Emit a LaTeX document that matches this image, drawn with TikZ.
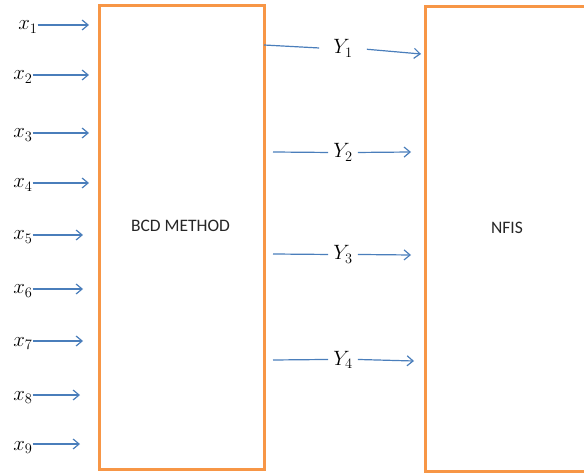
\documentclass[tikz,border=0pt]{standalone}
\usepackage{fontspec}
\usepackage{amsmath,amssymb}
\usetikzlibrary{calc}
\usetikzlibrary{arrows.meta}
\newfontfamily\boxfont{Carlito}
\definecolor{boxorange}{HTML}{F79646}
\definecolor{flowblue}{HTML}{4A7EBB}
\tikzset{
  blockbox/.style={draw=boxorange, line width=3pt, fill=none, inner sep=0pt},
  boxtext/.style={font=\boxfont\fontsize{17.5}{20}\selectfont, text=black!85, inner sep=0pt},
  inlab/.style={font=\fontsize{21}{24}\selectfont, inner sep=0pt, anchor=base},
  ylab/.style={font=\fontsize{20}{24}\selectfont, inner xsep=5pt, inner ysep=0pt, anchor=base},
  flow/.style={draw=flowblue, line width=1.2pt},
  flowarrow/.style={flow, -{Straight Barb[length=6pt,width=10pt,line width=1.2pt]}}
}
% one input: name, label x, label base y, arrow y, arrow end x, index
\newcommand{\inarrow}[6]{
\node[inlab] (#1) at ( #2 , #3 ) {$x_{#6}$};
\coordinate (#1end) at ( #5 , #4 );
\draw[flowarrow] (#1.east |- #1end) -- (#1end);}

\begin{document}
\begin{tikzpicture}[x=1pt,y=-1pt]
\useasboundingbox (0,0) rectangle (584,473);
\clip (0,0) rectangle (584,473);
% the two blocks
\node[blockbox, minimum width=164.5pt, minimum height=464pt] (bcd) at (181.75,237.5) {};
\node[blockbox, minimum width=175pt, minimum height=465pt] (nfis) at (512.5,239) {};
\node[boxtext] (bcdtext) at (180.5,226) {BCD METHOD};
\node[boxtext] (nfistext) at (507,228) {NFIS};
% inputs
\inarrow{x1}{28}{30}{25}{89}{1}
\inarrow{x2}{23}{80}{75}{89}{2}
\inarrow{x3}{23}{138}{133}{89}{3}
\inarrow{x4}{23}{188}{183}{89}{4}
\inarrow{x5}{23}{240}{235}{83}{5}
\inarrow{x6}{23}{294}{289}{83}{6}
\inarrow{x7}{23}{346}{341}{83}{7}
\inarrow{x8}{23}{400}{395}{80}{8}
\inarrow{x9}{23}{450}{444}{80}{9}
% outputs of the BCD block
\coordinate (o1) at (264,45);
\coordinate (o2) at (273,152);
\coordinate (o3) at (273,254);
\coordinate (o4) at (273,360);
\coordinate (n1) at (421,54);
\coordinate (n2) at (411,152);
\coordinate (n3) at (411,255);
\coordinate (n4) at (414,361);
\node[ylab] (y1) at (343,54) {$Y_1$};
\node[ylab] (y2) at (343,158) {$Y_2$};
\node[ylab] (y3) at (343,260) {$Y_3$};
\node[ylab] (y4) at (343,365) {$Y_4$};
\draw[flow, shorten >=9pt] (o1) -- (y1.west);
\draw[flowarrow, shorten <=9pt] (y1.east) -- (n1);
\draw[flow] (o2) -- (y2.west);
\draw[flowarrow] (y2.east) -- (n2);
\draw[flow] (o3) -- (y3.west);
\draw[flowarrow] (y3.east) -- (n3);
\draw[flow] (o4) -- (y4.west);
\draw[flowarrow] (y4.east) -- (n4);
\end{tikzpicture}
\end{document}
